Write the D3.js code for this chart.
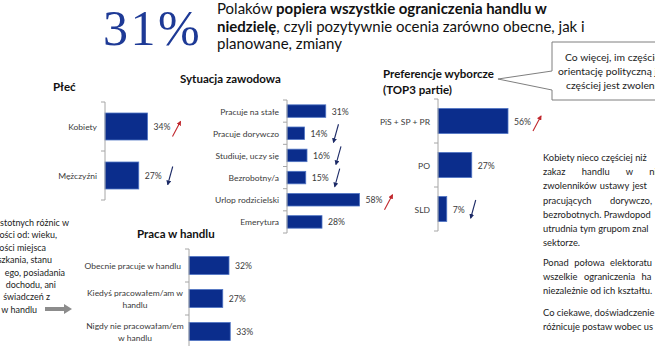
<!DOCTYPE html>
<html><head><meta charset="utf-8">
<script src="https://cdn.jsdelivr.net/npm/d3@7"></script>
<style>
html,body{margin:0;padding:0;background:#fff;overflow:hidden}
svg{display:block;font-family:Lato,"Open Sans",sans-serif}
</style></head>
<body>
<svg id="c" width="655" height="346"></svg>
<script>
// ---------- DATA ----------
const genderCats = ["Kobiety", "Mężczyźni"];
const genderVals = [34, 27];
const genderTrend = ["up", "down"];

const jobCats = ["Pracuje na stałe", "Pracuje dorywczo", "Studiuje, uczy się", "Bezrobotny/a", "Urlop rodzicielski", "Emerytura"];
const jobVals = [31, 14, 16, 15, 58, 28];
const jobTrend = [null, "down", "down", "down", "up", null];

const tradeCats = [["Obecnie pracuje w handlu"], ["Kiedyś pracowałem/am w", "handlu"], ["Nigdy nie pracowałam/em", "w handlu"]];
const tradeVals = [32, 27, 33];
const tradeTrend = [null, null, null];

const partyCats = ["PiS + SP + PR", "PO", "SLD"];
const partyVals = [56, 27, 7];
const partyTrend = ["up", null, "down"];

const headlineValue = "31%";
const headlineLines = [
  [["Polaków ", false], ["popiera wszystkie ograniczenia handlu w", true]],
  [["niedzielę", true], [", czyli pozytywnie ocenia zarówno obecne, jak i", false]],
  [["planowane, zmiany", false]]
];
const calloutLines = ["Co więcej, im częściej", "orientację polityczną j", "częściej jest zwolenni"];
const rightLines = [
  ["Kobiety nieco częściej niż", 0], ["zakaz handlu w ni", 14], ["zwolenników ustawy jest", 1],
  ["pracujących dorywczo,", 16], ["bezrobotnych. Prawdopod", 0], ["utrudnia tym grupom znal", 0],
  ["sektorze.", 0]
];
const rightLines2 = [["Ponad połowa elektoratu", 3], ["wszelkie ograniczenia ha", 4], ["niezależnie od ich kształtu.", 0]];
const rightLines3 = [["Co ciekawe, doświadczenie", 0], ["różnicuje postaw wobec us", 0]];
const leftLines = ["stotnych różnic w", "ości od: wieku,", "ości miejsca", "szkania, stanu",
  "ego, posiadania", "dochodu, ani", "świadczeń z", "w handlu"];
const leftLineEnds = [69, 57, 46, 52, 65, 56, 50, 37];

// ---------- STYLE ----------
const BAR = "#0b2d8c", BAR_EDGE = "#4f74c4", AXIS = "#a6a6a6", TXT = "#3a3a3a";
const RED = "#c0272d", NAVY = "#1c2a66";
const svg = d3.select("#c");
const x = d3.scaleLinear().domain([0, 100]).range([0, 125]);

function fit(str, weight, target) {
  const t = svg.append("text").attr("font-size", 10).attr("font-weight", weight).text(str);
  const w = t.node().getComputedTextLength(); t.remove();
  return 10 * target / w;
}
const FS_LABEL = fit("Urlop rodzicielski", 400, 64);
const FS_VAL = fit("58%", 400, 17);
const FS_TITLE = fit("Sytuacja zawodowa", 700, 101);
const FS_BODY = fit("Kobiety nieco częściej niż", 400, 104);
const FS_CALL = fit("orientację polityczną j", 400, 99);
const FS_LEFT = fit("stotnych różnic w", 400, 69);

// arrowheads
const defs = svg.append("defs");
[["up", RED], ["down", NAVY]].forEach(([id, col]) => {
  defs.append("marker").attr("id", "m-" + id).attr("viewBox", "0 0 10 10")
    .attr("refX", 8).attr("refY", 5).attr("markerWidth", 4.5).attr("markerHeight", 4.5)
    .attr("orient", "auto").append("path").attr("d", "M0,0 L10,5 L0,10 z").attr("fill", col);
});

function barChart(cfg) {
  const g = svg.append("g");
  const y = d3.scaleBand().domain(cfg.cats.map((c, i) => i)).range([cfg.y0, cfg.y1]).padding(0);
  const step = y.step();
  let titleEnd = 0;
  cfg.title.forEach((t, i) => {
    const tt = g.append("text").attr("x", cfg.tx).attr("y", cfg.ty + i * 16)
      .attr("font-size", FS_TITLE).attr("font-weight", 700).attr("fill", "#111").text(t);
    if (i === 0) titleEnd = cfg.tx + tt.node().getComputedTextLength();
  });
  cfg.cats.forEach((c, i) => {
    const yy = y(i) + (step - cfg.bh) / 2;
    g.append("rect").attr("x", cfg.x0).attr("y", yy).attr("width", x(cfg.vals[i])).attr("height", cfg.bh)
      .attr("fill", BAR).attr("stroke", BAR_EDGE).attr("stroke-width", 0.8);
    const cy = y(i) + step / 2;
    const lab = g.append("text").attr("x", cfg.x0 + x(cfg.vals[i]) + 6).attr("y", cy + 3.5)
      .attr("font-size", FS_VAL).attr("fill", TXT).text(cfg.vals[i] + "%");
    const lines = Array.isArray(c) ? c : [c];
    lines.forEach((l, k) => {
      const multi = lines.length > 1;
      g.append("text").attr("x", multi ? cfg.x0 - 54 : cfg.x0 - 8)
        .attr("y", cy + 3.5 + (k - (lines.length - 1) / 2) * 12)
        .attr("text-anchor", multi ? "middle" : "end")
        .attr("font-size", FS_LABEL).attr("fill", TXT).text(l);
    });
    const tr = cfg.trend[i];
    if (tr) {
      const le = cfg.x0 + x(cfg.vals[i]) + 6 + lab.node().getComputedTextLength();
      const pts = tr === "up" ? [[le + 2, cy + 10], [le + 10, cy - 5]] : [[le + 11, cy - 9], [le + 6, cy + 9]];
      g.append("line").attr("x1", pts[0][0]).attr("y1", pts[0][1]).attr("x2", pts[1][0]).attr("y2", pts[1][1])
        .attr("stroke", tr === "up" ? RED : NAVY).attr("stroke-width", 1.1)
        .attr("marker-end", "url(#m-" + tr + ")");
    }
  });
  const bounds = d3.range(cfg.cats.length + 1).map(i => cfg.y0 + i * step);
  g.append("line").attr("x1", cfg.x0).attr("x2", cfg.x0).attr("y1", cfg.y0).attr("y2", cfg.y1)
    .attr("stroke", AXIS).attr("stroke-width", 1);
  bounds.forEach(b => g.append("line").attr("x1", cfg.x0 - 4).attr("x2", cfg.x0).attr("y1", b).attr("y2", b)
    .attr("stroke", AXIS).attr("stroke-width", 1));
  return titleEnd;
}

barChart({cats: genderCats, vals: genderVals, trend: genderTrend, x0: 105, y0: 102, y1: 200, bh: 27,
  title: ["Płeć"], tx: 53, ty: 91});
barChart({cats: jobCats, vals: jobVals, trend: jobTrend, x0: 287, y0: 100, y1: 233, bh: 12.5,
  title: ["Sytuacja zawodowa"], tx: 180, ty: 83});
barChart({cats: tradeCats, vals: tradeVals, trend: tradeTrend, x0: 189, y0: 249, y1: 348, bh: 18,
  title: ["Praca w handlu"], tx: 137, ty: 238});
const prefTitleEnd = barChart({cats: partyCats, vals: partyVals, trend: partyTrend, x0: 438, y0: 99, y1: 231, bh: 25,
  title: ["Preferencje wyborcze", "(TOP3 partie)"], tx: 383, ty: 78});

// headline
svg.append("text").attr("x", 103).attr("y", 45).attr("font-family", "'Liberation Serif','DejaVu Serif',serif")
  .attr("font-size", 50).attr("letter-spacing", 2.5).attr("fill", "#1e3a96").text(headlineValue);
headlineLines.forEach((line, i) => {
  const t = svg.append("text").attr("x", 217).attr("y", 14 + i * 17.5).attr("font-size", 15).attr("fill", "#111");
  line.forEach(([s, b]) => t.append("tspan").attr("font-weight", b ? 700 : 400).text(s));
});

// callout
const tip = prefTitleEnd + 4;
svg.append("path").attr("d", `M552,42 H662 V100 H552 V90 L${tip},79 L552,71 Z`)
  .attr("fill", "#fff").attr("stroke", "#7f7f7f").attr("stroke-width", 1);
const calloutX = [565, 558, 566];
calloutLines.forEach((l, i) => svg.append("text").attr("x", calloutX[i]).attr("y", 61 + i * 14)
  .attr("font-size", FS_CALL).attr("fill", "#222").text(l));

// right text blocks
function block(lines, x0, y0) {
  lines.forEach(([l, w], i) => svg.append("text").attr("x", x0).attr("y", y0 + i * 14.2)
    .attr("font-size", FS_BODY).attr("fill", "#222").attr("word-spacing", w).text(l));
}
block(rightLines, 543, 161);
block(rightLines2, 543, 266);
block(rightLines3, 543, 316);
// left block (cut by page edge)
leftLines.forEach((l, i) => svg.append("text").attr("x", leftLineEnds[i]).attr("y", 226 + i * 12.4)
  .attr("text-anchor", "end").attr("font-size", FS_LEFT).attr("fill", "#222").text(l));
// grey block arrow
svg.append("path").attr("d", "M45,307 H64 V304 L72,309 L64,314 V311 H45 Z").attr("fill", "#8c8c8c");
</script>
</body></html>
